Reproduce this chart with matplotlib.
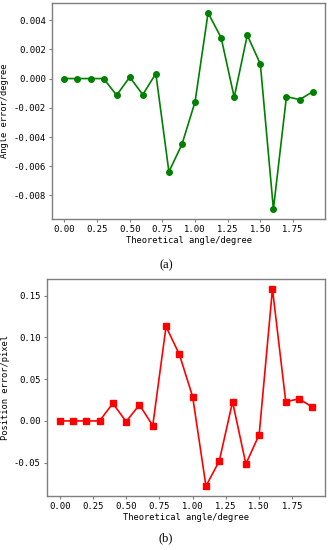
import numpy as np
import matplotlib
matplotlib.use("Agg")
import matplotlib.pyplot as plt

# theoretical angle (degree)
angle = [0.0, 0.1, 0.2, 0.3, 0.4, 0.5, 0.6, 0.7, 0.8, 0.9,
         1.0, 1.1, 1.2, 1.3, 1.4, 1.5, 1.6, 1.7, 1.8, 1.9]

# (a) angle error / degree
angle_err = [0.0, 0.0, 0.0, 0.0, -0.00114, 0.0001, -0.0011, 0.00034, -0.00638, -0.0045,
             -0.0016, 0.0045, 0.00279, -0.00128, 0.00297, 0.001, -0.00894, -0.00123, -0.00144, -0.00091]

# (b) position error / pixel
pos_err = [0.0, 0.0, 0.0, 0.0, 0.021, -0.0008, 0.0193, -0.0056, 0.113, 0.0796,
           0.029, -0.078, -0.048, 0.0229, -0.0515, -0.0165, 0.158, 0.0229, 0.0265, 0.0165]

xticks = [0.0, 0.25, 0.5, 0.75, 1.0, 1.25, 1.5, 1.75]
yticks_a = [-0.008, -0.006, -0.004, -0.002, 0.0, 0.002, 0.004]
yticks_b = [-0.05, 0.0, 0.05, 0.10, 0.15]

W, H = 334, 550
fig = plt.figure(figsize=(W / 100, H / 100), dpi=100)

mono = "DejaVu Sans Mono"
tick_fs = 6.4
label_fs = 6.3
spine_col = "#7f7f7f"


def style(ax):
    for s in ax.spines.values():
        s.set_color(spine_col)
        s.set_linewidth(1.0)
    ax.set_xticks(xticks)
    ax.set_xticklabels(["%.2f" % t for t in xticks])
    ax.tick_params(labelsize=tick_fs, length=2.5, width=0.8, color=spine_col, pad=2)
    for lab in ax.get_xticklabels() + ax.get_yticklabels():
        lab.set_family(mono)


# top panel
ax1 = fig.add_axes([52 / W, 1 - 219 / H, (325 - 52) / W, (219 - 3) / H])
ax1.plot(angle, angle_err, color="#008000", marker="o", markersize=4, linewidth=1.2)
style(ax1)
ax1.set_yticks(yticks_a)
ax1.set_yticklabels(["%.3f" % v for v in yticks_a], family=mono, fontsize=tick_fs)
ax1.set_xlabel("Theoretical angle/degree", family=mono, fontsize=label_fs, labelpad=1)
ax1.set_ylabel("Angle error/degree", family=mono, fontsize=label_fs, labelpad=3)
fig.text(166 / W, 1 - 265 / H, "(a)", family="Liberation Serif", fontsize=9,
         ha="center", va="center")

# bottom panel
ax2 = fig.add_axes([47 / W, 1 - 496 / H, (325 - 47) / W, (496 - 279) / H])
ax2.plot(angle, pos_err, color="red", marker="s", markersize=4, linewidth=1.2)
style(ax2)
ax2.set_yticks(yticks_b)
ax2.set_yticklabels(["%.2f" % v for v in yticks_b], family=mono, fontsize=tick_fs)
ax2.set_xlabel("Theoretical angle/degree", family=mono, fontsize=label_fs, labelpad=1)
ax2.set_ylabel("Position error/pixel", family=mono, fontsize=label_fs, labelpad=3)
fig.text(166 / W, 1 - 538 / H, "(b)", family="Liberation Serif", fontsize=9,
         ha="center", va="center")

fig.savefig("out.png", dpi=100)
